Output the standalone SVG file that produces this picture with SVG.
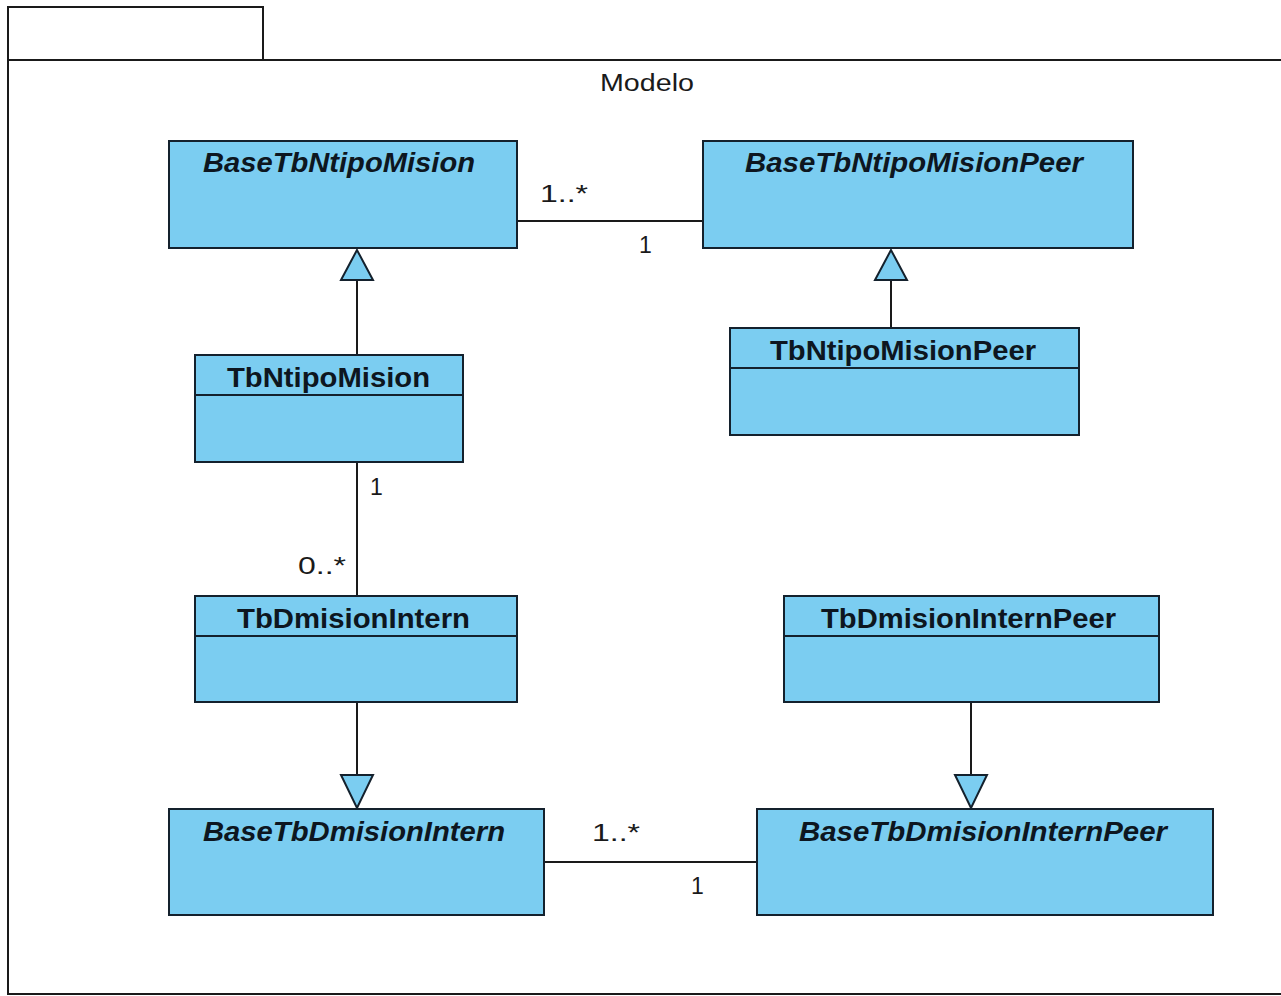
<svg xmlns="http://www.w3.org/2000/svg" width="1281" height="996" viewBox="0 0 1281 996">
<defs>
<style>
.pkg{fill:#ffffff;stroke:#1a1a1a;stroke-width:2}
.box{fill:#7bcdf1;stroke:#14212d;stroke-width:2}
.sep{stroke:#14212d;stroke-width:2}
.title{font-family:"Liberation Sans",Arial,sans-serif;font-weight:bold;font-size:27px;fill:#0d1620}
.abs{font-style:italic}
.lbl{font-family:"Liberation Sans",Arial,sans-serif;font-size:23px;fill:#1a1a1a}
.edge{stroke:#1a1a1a;stroke-width:2;fill:none}
.tri{fill:#7bcdf1;stroke:#14212d;stroke-width:2;stroke-linejoin:miter}
</style>
</defs>
<rect width="1281" height="996" fill="#ffffff"/>
<g id="package">
<rect class="pkg" x="8" y="7" width="255" height="53"/>
<rect class="pkg" x="8" y="60" width="1290" height="934"/>
<text class="lbl" x="600" y="91" textLength="94" lengthAdjust="spacingAndGlyphs">Modelo</text>
</g>
<g id="connectors">
<line class="edge" x1="517" y1="221" x2="703" y2="221"/>
<text class="lbl" x="540" y="202" textLength="48" lengthAdjust="spacingAndGlyphs">1..*</text>
<text class="lbl" x="639" y="253">1</text>
<line class="edge" x1="357" y1="280" x2="357" y2="355"/>
<polygon class="tri" points="357,250 341,280 373,280"/>
<line class="edge" x1="891" y1="280" x2="891" y2="328"/>
<polygon class="tri" points="891,250 875,280 907,280"/>
<line class="edge" x1="357" y1="462" x2="357" y2="596"/>
<text class="lbl" x="370" y="495">1</text>
<text class="lbl" x="298" y="574" textLength="48" lengthAdjust="spacingAndGlyphs">0..*</text>
<line class="edge" x1="357" y1="702" x2="357" y2="775"/>
<polygon class="tri" points="341,775 373,775 357,808"/>
<line class="edge" x1="971" y1="702" x2="971" y2="775"/>
<polygon class="tri" points="955,775 987,775 971,808"/>
<line class="edge" x1="544" y1="862" x2="757" y2="862"/>
<text class="lbl" x="592" y="841" textLength="48" lengthAdjust="spacingAndGlyphs">1..*</text>
<text class="lbl" x="691" y="894">1</text>
</g>
<g id="BaseTbNtipoMision">
<rect class="box" x="169" y="141" width="348" height="107"/>
<text class="title abs" x="203" y="172" textLength="272" lengthAdjust="spacingAndGlyphs">BaseTbNtipoMision</text>
</g>
<g id="BaseTbNtipoMisionPeer">
<rect class="box" x="703" y="141" width="430" height="107"/>
<text class="title abs" x="745" y="172" textLength="338" lengthAdjust="spacingAndGlyphs">BaseTbNtipoMisionPeer</text>
</g>
<g id="TbNtipoMision">
<rect class="box" x="195" y="355" width="268" height="107"/>
<line class="sep" x1="195" y1="395" x2="463" y2="395"/>
<text class="title" x="227" y="387" textLength="203" lengthAdjust="spacingAndGlyphs">TbNtipoMision</text>
</g>
<g id="TbNtipoMisionPeer">
<rect class="box" x="730" y="328" width="349" height="107"/>
<line class="sep" x1="730" y1="368" x2="1079" y2="368"/>
<text class="title" x="770" y="360" textLength="266" lengthAdjust="spacingAndGlyphs">TbNtipoMisionPeer</text>
</g>
<g id="TbDmisionIntern">
<rect class="box" x="195" y="596" width="322" height="106"/>
<line class="sep" x1="195" y1="636" x2="517" y2="636"/>
<text class="title" x="237" y="628" textLength="233" lengthAdjust="spacingAndGlyphs">TbDmisionIntern</text>
</g>
<g id="TbDmisionInternPeer">
<rect class="box" x="784" y="596" width="375" height="106"/>
<line class="sep" x1="784" y1="636" x2="1159" y2="636"/>
<text class="title" x="821" y="628" textLength="295" lengthAdjust="spacingAndGlyphs">TbDmisionInternPeer</text>
</g>
<g id="BaseTbDmisionIntern">
<rect class="box" x="169" y="809" width="375" height="106"/>
<text class="title abs" x="203" y="841" textLength="302" lengthAdjust="spacingAndGlyphs">BaseTbDmisionIntern</text>
</g>
<g id="BaseTbDmisionInternPeer">
<rect class="box" x="757" y="809" width="456" height="106"/>
<text class="title abs" x="799" y="841" textLength="368" lengthAdjust="spacingAndGlyphs">BaseTbDmisionInternPeer</text>
</g>
</svg>
